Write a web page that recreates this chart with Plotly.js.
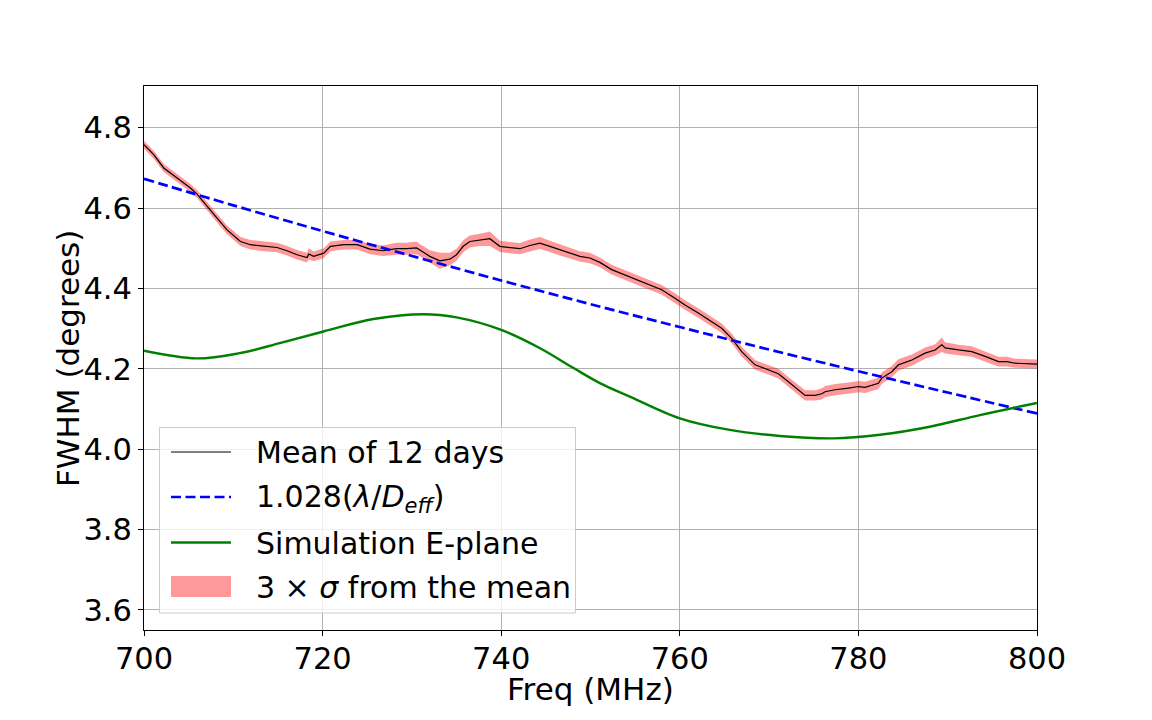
<!DOCTYPE html>
<html>
<head>
<meta charset="utf-8">
<script src="https://cdn.plot.ly/plotly-3.0.1.min.js"></script>
<style>html,body{margin:0;padding:0;background:#fff;}#chart{width:1152px;height:720px;}</style>
</head>
<body>
<div id="chart"></div>
<script>
// Mean of 12 days
const freqMean = [700.00,701.09,702.21,703.70,705.20,705.94,707.06,708.18,709.30,710.80,711.92,713.41,714.90,716.02,717.14,718.26,718.45,719.00,720.13,720.88,722.38,723.87,725.30,726.78,728.28,729.40,730.52,730.89,732.01,733.13,734.25,735.00,735.74,736.49,737.61,738.73,739.85,740.97,742.09,743.21,744.33,745.45,746.57,747.69,748.81,749.93,751.05,752.37,754.23,756.10,757.97,759.46,760.58,762.07,763.57,764.69,765.81,766.93,768.43,769.92,771.04,772.16,773.28,774.03,775.15,775.90,776.27,777.39,778.88,780.00,780.75,782.24,782.62,783.74,784.48,785.98,787.47,788.59,789.34,789.71,791.20,792.70,794.19,795.69,796.62,797.56,800.00];
const fwhmMean = [4.758,4.733,4.700,4.675,4.650,4.635,4.604,4.575,4.546,4.517,4.509,4.505,4.502,4.494,4.484,4.477,4.486,4.480,4.488,4.505,4.509,4.509,4.498,4.494,4.499,4.499,4.501,4.496,4.480,4.469,4.473,4.484,4.505,4.517,4.521,4.524,4.505,4.502,4.499,4.507,4.513,4.505,4.496,4.488,4.480,4.476,4.465,4.447,4.430,4.413,4.397,4.376,4.359,4.339,4.318,4.301,4.276,4.243,4.210,4.198,4.188,4.168,4.148,4.134,4.134,4.138,4.143,4.148,4.152,4.156,4.154,4.164,4.177,4.193,4.210,4.222,4.239,4.247,4.260,4.252,4.247,4.243,4.231,4.218,4.218,4.214,4.212];
// 3 sigma half-width of the band
const sigma3 = [0.010,0.010,0.010,0.010,0.010,0.010,0.010,0.011,0.011,0.011,0.012,0.012,0.012,0.012,0.012,0.012,0.014,0.012,0.012,0.012,0.012,0.012,0.013,0.013,0.015,0.015,0.016,0.015,0.015,0.020,0.016,0.015,0.015,0.015,0.015,0.018,0.014,0.014,0.014,0.015,0.015,0.014,0.014,0.014,0.013,0.013,0.012,0.012,0.012,0.012,0.012,0.012,0.012,0.012,0.012,0.012,0.012,0.012,0.012,0.012,0.012,0.012,0.013,0.013,0.013,0.014,0.014,0.014,0.014,0.014,0.014,0.014,0.014,0.014,0.014,0.014,0.014,0.014,0.018,0.014,0.013,0.013,0.012,0.012,0.012,0.011,0.011];
// 1.028(lambda/D_eff)
const freqTheory = [700,710,720,730,740,750,760,770,780,790,800];
const fwhmTheory = [4.673,4.607,4.543,4.481,4.420,4.361,4.304,4.248,4.194,4.141,4.089];
// Simulation E-plane
const freqSim = [700.0,705.9,710.7,715.2,720.1,725.7,731.3,735.0,740.0,744.3,748.1,751.1,754.4,760.0,765.6,771.2,777.2,782.4,788.0,793.6,800.0];
const fwhmSim = [4.245,4.226,4.239,4.264,4.293,4.324,4.336,4.328,4.297,4.252,4.202,4.164,4.131,4.077,4.048,4.033,4.027,4.036,4.056,4.085,4.115];

const xTicks = [700,720,740,760,780,800];
const yTicks = [3.6,3.8,4.0,4.2,4.4,4.6,4.8];
const legendLabels = ['Mean of 12 days','1.028(<i>λ</i>/<i>D</i><sub><i>eff</i></sub>)','Simulation E-plane','3 × <i>σ</i> from the mean'];
const xTitle = 'Freq (MHz)';
const yTitle = 'FWHM (degrees)';

const upper = fwhmMean.map((v,i)=>v+sigma3[i]);
const lower = fwhmMean.map((v,i)=>v-sigma3[i]);

const font = {family:'DejaVu Sans, sans-serif', size:30.5, color:'#000'};
const titleFont = {family:'DejaVu Sans, sans-serif', size:31, color:'#000'};
const legendFont = {family:'DejaVu Sans, sans-serif', size:30, color:'#000'};

// plot area in pixels
const L=144, T=86, W=893, H=544;
const px = v => (v-L)/W;
const py = v => (T+H-v)/H;

const traces = [
  {x: freqMean.concat(freqMean.slice().reverse()), y: upper.concat(lower.slice().reverse()),
   type:'scatter', mode:'lines', fill:'toself', fillcolor:'rgba(255,0,0,0.4)', line:{width:0, color:'rgba(255,0,0,0)'},
   name:legendLabels[3], hoverinfo:'skip', showlegend:false},
  {x: freqMean, y: fwhmMean, type:'scatter', mode:'lines', line:{color:'#000', width:1.2},
   name:legendLabels[0], showlegend:false},
  {x: freqTheory, y: fwhmTheory, type:'scatter', mode:'lines', line:{color:'#0000ff', width:2.7, dash:'10px,4.5px', shape:'spline'},
   name:legendLabels[1], showlegend:false},
  {x: freqSim, y: fwhmSim, type:'scatter', mode:'lines', line:{color:'#008000', width:2.4, shape:'spline'},
   name:legendLabels[2], showlegend:false}
];

// hand-drawn legend (matplotlib style)
const shapes = [
  {type:'rect', xref:'paper', yref:'paper', x0:px(159.5), x1:px(575.5), y0:py(613), y1:py(427.5),
   fillcolor:'rgba(255,255,255,0.8)', line:{color:'#cccccc', width:1}, layer:'above'},
  {type:'line', xref:'paper', yref:'paper', x0:px(171), x1:px(231), y0:py(452), y1:py(452), line:{color:'#000', width:1.2}, layer:'above'},
  {type:'line', xref:'paper', yref:'paper', x0:px(171), x1:px(231), y0:py(497), y1:py(497), line:{color:'#0000ff', width:2.7, dash:'10px,4.5px'}, layer:'above'},
  {type:'line', xref:'paper', yref:'paper', x0:px(171), x1:px(231), y0:py(542.5), y1:py(542.5), line:{color:'#008000', width:2.4}, layer:'above'},
  {type:'rect', xref:'paper', yref:'paper', x0:px(171), x1:px(231), y0:py(597), y1:py(576), fillcolor:'rgba(255,0,0,0.4)', line:{width:0}, layer:'above'}
];
const legendY = [452, 497, 542.5, 586.5];
const annotations = legendLabels.map((t,i)=>({
  xref:'paper', yref:'paper', x:px(254), y:py(legendY[i]+1), xanchor:'left', yanchor:'middle',
  text:t, showarrow:false, font:legendFont
}));
annotations.push({xref:'paper', yref:'paper', x:0.5, y:py(689), xanchor:'center', yanchor:'middle',
  text:xTitle, showarrow:false, font:titleFont});
annotations.push({xref:'paper', yref:'paper', x:px(68), y:py(359), xanchor:'center', yanchor:'middle',
  text:yTitle, textangle:-90, showarrow:false, font:titleFont});

const axisCommon = {
  showline:true, linecolor:'#000', linewidth:1, mirror:true,
  ticks:'outside', ticklen:5, tickcolor:'#000', tickwidth:1,
  showgrid:true, gridcolor:'#b0b0b0', gridwidth:1, zeroline:false,
  tickfont:font
};

const layout = {
  width:1152, height:720,
  margin:{l:L, r:1152-L-W, t:T, b:720-T-H},
  paper_bgcolor:'#fff', plot_bgcolor:'#fff',
  font:font,
  xaxis: Object.assign({}, axisCommon, {range:[700,800], tickvals:xTicks, ticktext:xTicks.map(String), automargin:false, ticklabelstandoff:-4}),
  yaxis: Object.assign({}, axisCommon, {range:[3.550,4.904], tickvals:yTicks, ticktext:yTicks.map(v=>v.toFixed(1)), automargin:false}),
  showlegend:false,
  shapes:shapes,
  annotations:annotations
};

Plotly.newPlot('chart', traces, layout, {displayModeBar:false, staticPlot:true});
</script>
</body>
</html>
